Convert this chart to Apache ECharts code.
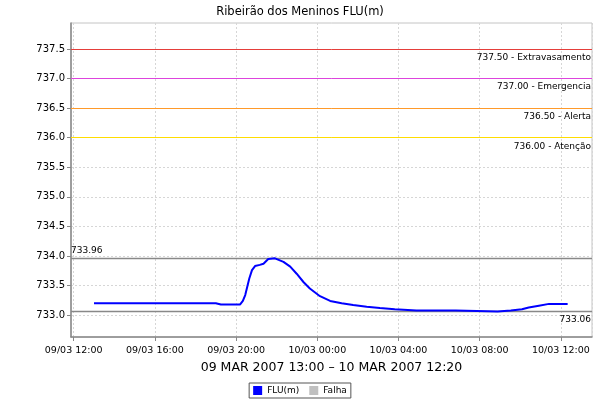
<!DOCTYPE html>
<html>
<head>
<meta charset="utf-8">
<script src="https://cdn.jsdelivr.net/npm/echarts@6/dist/echarts.min.js"></script>
<style>html,body{margin:0;padding:0;background:#fff}#c{width:600px;height:400px}</style>
</head>
<body>
<div id="c"></div>
<script>
var chartTitle = 'Ribeirão dos Meninos FLU(m)';
var axisName = '09 MAR 2007 13:00 – 10 MAR 2007 12:20';
var seriesNames = ['FLU(m)', 'Falha'];
var times = [
  '2007-03-09 13:00','2007-03-09 14:00','2007-03-09 15:00','2007-03-09 16:00',
  '2007-03-09 17:00','2007-03-09 18:00','2007-03-09 19:00','2007-03-09 19:15',
  '2007-03-09 20:00','2007-03-09 20:12','2007-03-09 20:20','2007-03-09 20:27',
  '2007-03-09 20:33','2007-03-09 20:39','2007-03-09 20:47','2007-03-09 20:56',
  '2007-03-09 21:10','2007-03-09 21:21','2007-03-09 21:35','2007-03-09 21:55',
  '2007-03-09 22:20','2007-03-09 22:40','2007-03-09 22:59','2007-03-09 23:19',
  '2007-03-09 23:38','2007-03-10 00:08','2007-03-10 00:38','2007-03-10 01:12',
  '2007-03-10 01:46','2007-03-10 02:26','2007-03-10 03:05','2007-03-10 03:49',
  '2007-03-10 04:53','2007-03-10 06:49','2007-03-10 06:50','2007-03-10 08:53',
  '2007-03-10 08:54','2007-03-10 09:32','2007-03-10 09:35','2007-03-10 10:05',
  '2007-03-10 10:25','2007-03-10 10:55','2007-03-10 11:25','2007-03-10 12:20'
];
var levels = [
  733.20,733.20,733.20,733.20,
  733.20,733.20,733.20,733.18,
  733.18,733.18,733.24,733.34,
  733.48,733.62,733.76,733.83,
  733.85,733.87,733.95,733.96,
  733.90,733.82,733.70,733.56,
  733.45,733.32,733.24,733.20,
  733.17,733.14,733.12,733.10,
  733.08,733.08,733.06,733.06,
  733.08,733.08,733.10,733.10,
  733.13,733.16,733.19,733.19
];
var thresholdValues = [737.5, 737.0, 736.5, 736.0];
var thresholdLabels = ['737.50 - Extravasamento', '737.00 - Emergencia', '736.50 - Alerta', '736.00 - Atenção'];
var thresholdColors = ['#e53e3a', '#dd44dd', '#ff9a2a', '#ffdd00'];
var maxValue = 733.96, minValue = 733.06;
var yTicks = [733.0, 733.5, 734.0, 734.5, 735.0, 735.5, 736.0, 736.5, 737.0, 737.5];
var yMin = 732.63, yMax = 737.94;
var xMin = '2007-03-09 11:52', xMax = '2007-03-10 13:32';

function pad(n){return (n<10?'0':'')+n;}
var chart = echarts.init(document.getElementById('c'), null, {renderer:'canvas'});
var lineData = times.map(function(t,i){return [t, levels[i]];});
var ml = thresholdValues.map(function(v,i){
  return {yAxis: v, lineStyle:{color: thresholdColors[i], width:1, type:'solid'},
    label:{show:true, position:'insideEndBottom', formatter: thresholdLabels[i], color:'#000', fontSize:9, fontFamily:'DejaVu Sans', distance:[1,4]}};
});
ml.push({yAxis: maxValue, lineStyle:{color:'#888', width:1.3, type:'solid'},
  label:{show:true, position:'insideStartTop', formatter: maxValue.toFixed(2), color:'#000', fontSize:9, fontFamily:'DejaVu Sans', distance:[0,3]}});
ml.push({yAxis: minValue, lineStyle:{color:'#888', width:1.3, type:'solid'},
  label:{show:true, position:'insideEndBottom', formatter: minValue.toFixed(2), color:'#000', fontSize:9, fontFamily:'DejaVu Sans', distance:[1,4]}});

chart.setOption({
  animation:false,
  title:{text: chartTitle, left:'center', top:1, textStyle:{fontSize:11.5, fontWeight:'normal', color:'#000', fontFamily:'DejaVu Sans'}},
  grid:{left:71, right:8, top:23, bottom:63, show:true, borderColor:'#c4c4c4', borderWidth:1},
  legend:{bottom:2, left:'center', data: seriesNames, icon:'rect', itemWidth:9, itemHeight:9, itemGap:10,
    borderColor:'#555', borderWidth:1, padding:[3,4], textStyle:{fontSize:9, color:'#000', fontFamily:'DejaVu Sans'}},
  xAxis:{type:'time', min:xMin, max:xMax, minInterval:4*3600*1000, maxInterval:4*3600*1000,
    name: axisName, nameLocation:'middle', nameGap:22,
    nameTextStyle:{fontSize:12.5, color:'#000', fontFamily:'DejaVu Sans'},
    axisLine:{lineStyle:{color:'#888', width:1.5}},
    axisTick:{show:true, length:4, lineStyle:{color:'#888'}},
    minorTick:{show:false},
    axisLabel:{fontSize:9.5, color:'#000', fontFamily:'DejaVu Sans', margin:9, hideOverlap:false,
      formatter:function(v){var d=new Date(v); if(d.getMinutes()!==0||d.getHours()%4!==0) return ''; return pad(d.getDate())+'/'+pad(d.getMonth()+1)+' '+pad(d.getHours())+':'+pad(d.getMinutes());}},
    splitLine:{show:true, lineStyle:{color:'#d6d6d6', type:[2,2]}}},
  yAxis:{type:'value', min:yMin, max:yMax,
    axisLine:{show:true, lineStyle:{color:'#888', width:1.5}},
    axisTick:{show:true, length:4, lineStyle:{color:'#888'}, customValues: yTicks},
    axisLabel:{fontSize:10, color:'#000', fontFamily:'DejaVu Sans', margin:6, customValues: yTicks,
      formatter:function(v){return v.toFixed(1);}},
    splitLine:{show:true, lineStyle:{color:'#d6d6d6', type:[2,2]}}},
  series:[
    {name: seriesNames[0], type:'line', data: lineData, showSymbol:false, symbol:'none', color:'#0000ff',
      lineStyle:{color:'#0000ff', width:2}, z:3,
      markLine:{symbol:'none', silent:true, animation:false, data: ml, z:2}},
    {name: seriesNames[1], type:'line', data: [], color:'#c0c0c0'}
  ]
});
</script>
</body>
</html>
